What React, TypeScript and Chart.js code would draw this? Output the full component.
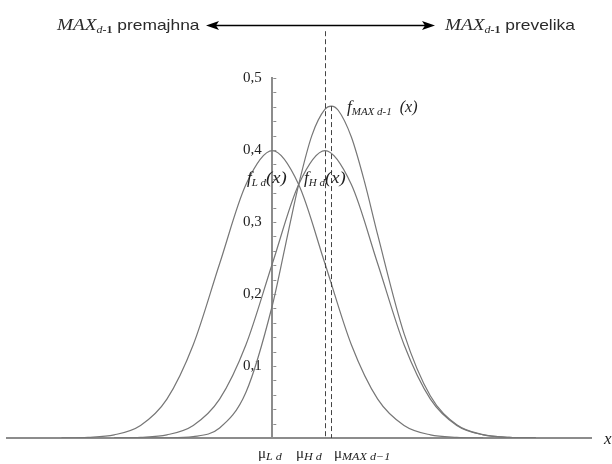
import React, { useEffect, useRef } from "react";
import { Chart, registerables } from "chart.js";

Chart.register(...registerables);

// x in units of sigma, origin at mu_L
const xL = [-4, -3.5, -3, -2.5, -2, -1.5, -1, -0.5, 0, 0.5, 1, 1.5, 2, 2.5, 3, 3.5, 4];
const fL = [0.0001, 0.0009, 0.0044, 0.0175, 0.054, 0.1295, 0.242, 0.352, 0.399, 0.352, 0.242, 0.1295, 0.054, 0.0175, 0.0044, 0.0009, 0.0001];

const xH = [-3, -2.5, -2, -1.5, -1, -0.5, 0, 0.5, 1, 1.5, 2, 2.5, 3, 3.5, 4, 4.5, 5];
const fH = [0.0001, 0.0009, 0.0044, 0.0175, 0.054, 0.1295, 0.242, 0.352, 0.399, 0.352, 0.242, 0.1295, 0.054, 0.0175, 0.0044, 0.0009, 0.0001];

const xMax = [-3, -2.5, -2, -1.5, -1, -0.5, 0, 0.25, 0.5, 0.75, 1, 1.12, 1.25, 1.5, 1.75, 2, 2.5, 3, 3.5, 4, 4.5, 5];
const fMax = [0, 0.00001, 0.0002, 0.002, 0.014, 0.0635, 0.184, 0.268, 0.352, 0.42, 0.4566, 0.461, 0.4552, 0.418, 0.3557, 0.282, 0.145, 0.0583, 0.0184, 0.0046, 0.0009, 0.0001];

const muL = 0;
const muH = 1;
const muMax = 1.12;

const xMin = -5.034;
const xMaxRange = 6.047;
const yMin = 0;
const yMaxRange = 0.5;
const yStep = 0.02;
const dashTopValue = 0.565;

const curveColor = "#767676";
const axisColor = "#8c8c8c";
const textColor = "#1e1e1e";
const SERIF = "'Liberation Serif', 'DejaVu Serif', serif";
const SANS = "'Liberation Sans', Arial, sans-serif";

type Run = [string, string, number, number?];

function drawRuns(ctx: CanvasRenderingContext2D, x: number, y: number, runs: Run[]) {
  let cx = x;
  for (const [t, f, dy, sx] of runs) {
    const s = sx || 1;
    ctx.font = f;
    ctx.save();
    ctx.translate(cx, y + dy);
    ctx.scale(s, 1);
    ctx.fillText(t, 0, 0);
    ctx.restore();
    cx += ctx.measureText(t).width * s;
  }
}

const decor = {
  id: "decor",
  afterDraw(chart: any) {
    const ctx: CanvasRenderingContext2D = chart.ctx;
    const xs = chart.scales.x;
    const ys = chart.scales.y;
    const x0 = xs.getPixelForValue(muL);
    const yBase = ys.getPixelForValue(0);
    ctx.save();

    // small tick marks to the right of the y axis
    ctx.strokeStyle = axisColor;
    ctx.lineWidth = 1;
    ys.ticks.forEach((t: any) => {
      if (t.value <= 0) return;
      const py = Math.round(ys.getPixelForValue(t.value)) + 0.5;
      ctx.beginPath();
      ctx.moveTo(x0 + 1, py);
      ctx.lineTo(x0 + 4, py);
      ctx.stroke();
    });

    // dashed lines
    ctx.setLineDash([5, 3]);
    ctx.strokeStyle = "#444";
    ctx.lineWidth = 1;
    const pH = Math.round(xs.getPixelForValue(muH)) + 0.5;
    ctx.beginPath();
    ctx.moveTo(pH, ys.getPixelForValue(dashTopValue));
    ctx.lineTo(pH, yBase);
    ctx.stroke();
    const peak = fMax[xMax.indexOf(muMax)];
    const pM = Math.round(xs.getPixelForValue(muMax)) + 0.5;
    ctx.beginPath();
    ctx.moveTo(pM, ys.getPixelForValue(peak));
    ctx.lineTo(pM, yBase);
    ctx.stroke();
    ctx.setLineDash([]);

    // header arrow
    const ay = 25.5;
    const aL = 206;
    const aR = 435;
    ctx.strokeStyle = "#000";
    ctx.fillStyle = "#000";
    ctx.lineWidth = 1.6;
    ctx.beginPath();
    ctx.moveTo(aL + 8, ay);
    ctx.lineTo(aR - 8, ay);
    ctx.stroke();
    ctx.beginPath();
    ctx.moveTo(aL, ay);
    ctx.lineTo(aL + 13, ay - 4.5);
    ctx.lineTo(aL + 10, ay);
    ctx.lineTo(aL + 13, ay + 4.5);
    ctx.closePath();
    ctx.fill();
    ctx.beginPath();
    ctx.moveTo(aR, ay);
    ctx.lineTo(aR - 13, ay - 4.5);
    ctx.lineTo(aR - 10, ay);
    ctx.lineTo(aR - 13, ay + 4.5);
    ctx.closePath();
    ctx.fill();

    // texts
    ctx.textAlign = "left";
    ctx.textBaseline = "alphabetic";
    const it = (s: number) => `italic ${s}px ${SERIF}`;
    const bd = (s: number) => `bold ${s}px ${SERIF}`;
    ctx.fillStyle = "#2a2a2a";
    drawRuns(ctx, 57, 30, [
      ["MAX", it(16), 0, 1.2],
      ["d", it(10), 3, 1.2],
      ["-1", bd(10), 3, 1.2],
      [" premajhna", `14.5px ${SANS}`, 0, 1.2],
    ]);
    drawRuns(ctx, 445, 30, [
      ["MAX", it(16), 0, 1.2],
      ["d", it(10), 3, 1.2],
      ["-1", bd(10), 3, 1.2],
      [" prevelika", `14.5px ${SANS}`, 0, 1.2],
    ]);

    // curve labels
    ctx.fillStyle = textColor;
    drawRuns(ctx, 347, 112, [
      ["f", it(17), 0],
      ["MAX d-1", it(11), 3],
      ["  (x)", it(16), 0],
    ]);
    drawRuns(ctx, 247, 183, [
      ["f", it(17), 0],
      ["L d", it(11), 3],
      ["(x)", it(17), 0, 1.1],
    ]);
    drawRuns(ctx, 304, 183, [
      ["f", it(17), 0],
      ["H d", it(11), 3],
      ["(x)", it(17), 0, 1.1],
    ]);

    // mu labels
    const mu = `15px ${SERIF}`;
    drawRuns(ctx, 258, 458, [["\u03bc", mu, 0], ["L d", it(11), 2, 1.1]]);
    drawRuns(ctx, 296, 458, [["\u03bc", mu, 0], ["H d", it(11), 2, 1.1]]);
    drawRuns(ctx, 334, 458, [["\u03bc", mu, 0], ["MAX d\u22121", it(11), 2, 1.1]]);

    // x axis label
    drawRuns(ctx, 604, 444, [["x", it(17), 0]]);

    ctx.restore();
  },
};

export default function App() {
  const ref = useRef<HTMLCanvasElement | null>(null);

  useEffect(() => {
    document.body.style.margin = "0";
    if (!ref.current) return;
    const mk = (xs: number[], ys: number[]) => xs.map((x, i) => ({ x, y: ys[i] }));
    const base = {
      borderColor: curveColor,
      borderWidth: 1.2,
      pointRadius: 0,
      fill: false,
      cubicInterpolationMode: "monotone" as const,
    };
    const chart = new Chart(ref.current, {
      type: "line",
      data: {
        datasets: [
          { label: "fL", data: mk(xL, fL), ...base },
          { label: "fH", data: mk(xH, fH), ...base },
          { label: "fMax", data: mk(xMax, fMax), ...base },
        ],
      },
      options: {
        responsive: false,
        animation: false,
        devicePixelRatio: 1,
        layout: { padding: { left: 7, right: 21, top: 78, bottom: 26 } },
        plugins: { legend: { display: false }, tooltip: { enabled: false } },
        scales: {
          x: {
            type: "linear",
            min: xMin,
            max: xMaxRange,
            position: "bottom",
            ticks: { display: false },
            grid: { display: false, drawTicks: false },
            border: { display: true, color: axisColor, width: 2 },
          },
          y: {
            type: "linear",
            min: yMin,
            max: yMaxRange,
            position: { x: muL } as any,
            grid: { display: false, drawTicks: false },
            border: { display: true, color: axisColor, width: 2 },
            ticks: {
              stepSize: yStep,
              maxTicksLimit: 100,
              autoSkip: false,
              padding: 9,
              color: "#222",
              font: { family: SERIF, size: 15 },
              callback: (v: any) => {
                const n = Number(v);
                if (n <= 1e-9) return "";
                const k = n * 10;
                if (Math.abs(k - Math.round(k)) < 1e-6)
                  return (Math.round(k) / 10).toFixed(1).replace(".", ",") + "\u2002\u2009";
                return "";
              },
            },
          },
        },
      },
      plugins: [decor],
    });
    return () => chart.destroy();
  }, []);

  return (
    <div style={{ width: 612, height: 464, background: "#fff" }}>
      <canvas ref={ref} width={612} height={464} style={{ display: "block" }} />
    </div>
  );
}
